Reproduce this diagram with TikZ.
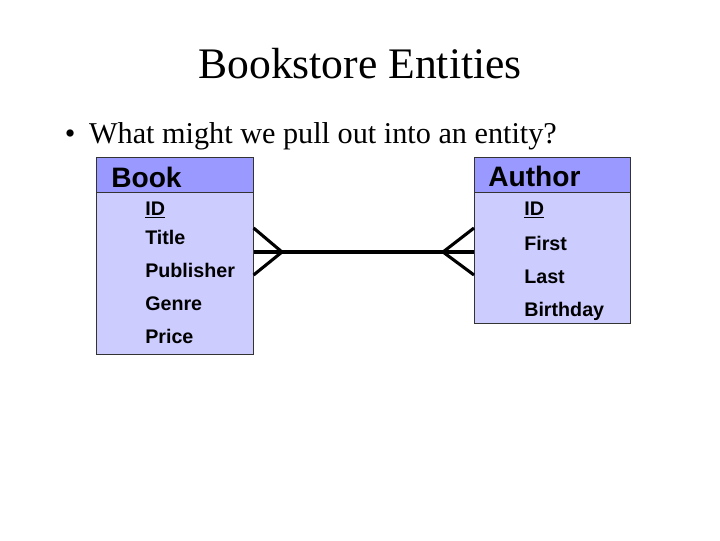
\documentclass[tikz,border=0pt]{standalone}
\usepackage{fontspec}
\setmainfont{Liberation Serif}
\newfontfamily\boxfont{Liberation Sans}[BoldFont={Liberation Sans Bold}]
\definecolor{headblue}{RGB}{153,153,255}
\definecolor{bodyblue}{RGB}{204,204,255}

\begin{document}
\begin{tikzpicture}[x=0.025cm, y=-0.025cm,
    head/.style={draw=black!80, fill=headblue, rectangle, anchor=north west, inner sep=0pt, minimum height=0.875cm},
    body/.style={draw=black!80, fill=bodyblue, rectangle, anchor=north west, inner sep=0pt},
    headtext/.style={anchor=base west, inner sep=0pt, font=\boxfont\bfseries\fontsize{20}{24}\selectfont},
    attr/.style={anchor=base west, inner sep=0pt, font=\boxfont\bfseries\fontsize{14}{17}\selectfont},
    relline/.style={line width=2.2pt}
  ]
    \useasboundingbox (0,0) rectangle (720,540);

    % Heading
    \node[anchor=base, font=\fontsize{31}{36}\selectfont] (title) at (360,78) {Bookstore Entities};
    \node[anchor=base west, font=\fontsize{21.5}{26}\selectfont] (bullet) at (60,143) {\textbullet\hspace{0.45em}What might we pull out into an entity?};

    % Entities
    \node[body, minimum width=3.925cm, minimum height=4.05cm] (bookbody) at (96,192) {};
    \node[head, minimum width=3.925cm] (bookhead) at (96,157) {};
    \node[body, minimum width=3.9cm, minimum height=3.275cm] (authorbody) at (474,192) {};
    \node[head, minimum width=3.9cm] (authorhead) at (474,157) {};

    \node[headtext] (booktitle) at (111,187) {Book};
    \node[headtext] (authortitle) at (488,186) {Author};

    % Attributes
    \node[attr] (bookid)  at (145,215) {\underline{ID}};
    \node[attr] (booktit) at (145,244) {Title};
    \node[attr] (bookpub) at (145,277) {Publisher};
    \node[attr] (bookgen) at (145,310) {Genre};
    \node[attr] (bookpri) at (145,343) {Price};

    \node[attr] (authid)    at (524,215) {\underline{ID}};
    \node[attr] (authfirst) at (524,250) {First};
    \node[attr] (authlast)  at (524,283) {Last};
    \node[attr] (authbirth) at (524,316) {Birthday};

    % Many-to-many relationship
    \coordinate (bookfoot) at (282,252);
    \coordinate (authorfoot) at (443,252);
    \draw[relline] (bookbody.east |- bookfoot) -- (authorbody.west |- authorfoot);
    \draw[relline] (bookbody.east |- 0,228) -- (bookfoot) -- (bookbody.east |- 0,275);
    \draw[relline] (authorbody.west |- 0,228) -- (authorfoot) -- (authorbody.west |- 0,275);

\end{tikzpicture}
\end{document}
